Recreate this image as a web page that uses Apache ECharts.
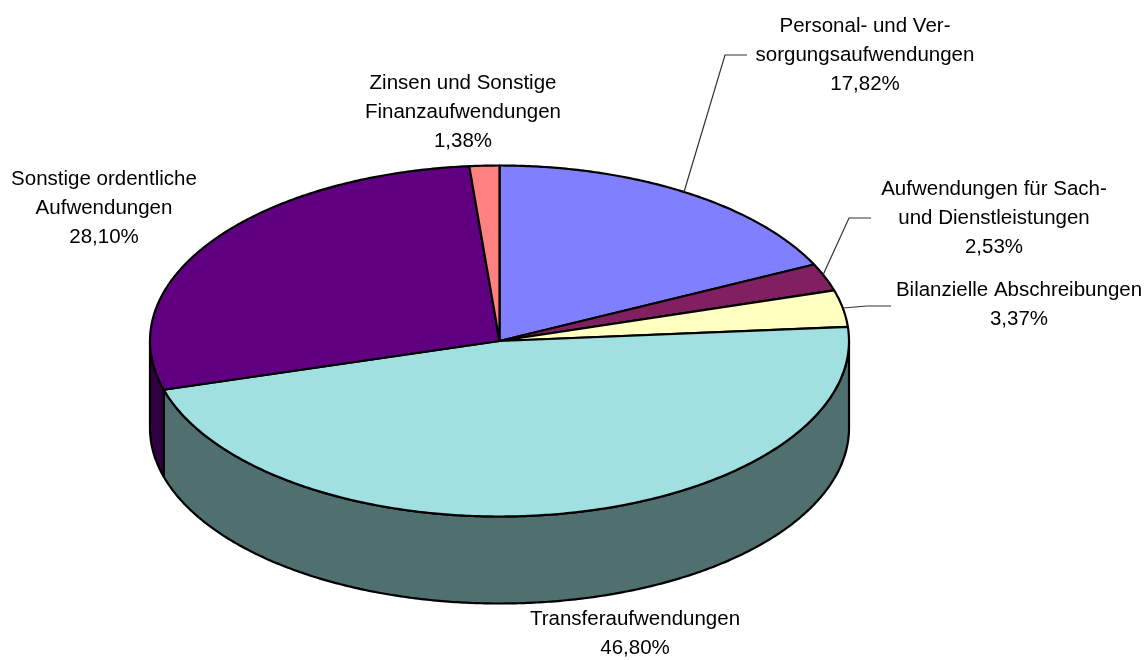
<!DOCTYPE html>
<html>
<head>
<meta charset="utf-8">
<style>html,body{margin:0;padding:0;background:#fff}#c{width:1147px;height:660px}</style>
<script src="https://cdn.jsdelivr.net/npm/echarts@6/dist/echarts.min.js"></script>
</head>
<body>
<div id="c"></div>
<script>
// Data (clockwise from 12 o'clock)
const categories = [
  "Personal- und Ver-\nsorgungsaufwendungen",
  "Aufwendungen für Sach-\nund Dienstleistungen",
  "Bilanzielle Abschreibungen",
  "Transferaufwendungen",
  "Sonstige ordentliche\nAufwendungen",
  "Zinsen und Sonstige\nFinanzaufwendungen"
];
const shares = [17.82, 2.53, 3.37, 46.80, 28.10, 1.38];

// Styles
const topColors  = ["#8080FF", "#802060", "#FFFFC0", "#A0E0E0", "#600080", "#FF8080"];
const sideColors = ["#404080", "#401030", "#808060", "#507070", "#300040", "#804040"];

// Layout
const pie = { cx: 499.5, cy: 341, rx: 349.5, ry: 175.5, depth: 87 };
const labelCenters = [[865, 55], [994, 218], [1019, 305], [635, 634], [104, 208], [463, 112]];
const leaders = [
  [[684, 192], [725, 55], [747, 55]],
  [[823, 275], [849, 218], [871, 218]],
  [[843, 308], [867, 306], [891, 306]],
  null, null, null
];
const font = '20.5px "Liberation Sans", Arial, sans-serif';
const STEP = Math.PI / 360;

function rim(a, dy) {
  return [pie.cx + pie.rx * Math.sin(a), pie.cy + dy - pie.ry * Math.cos(a)];
}
function arc(a0, a1, dy) {
  const n = Math.max(1, Math.ceil(Math.abs(a1 - a0) / STEP));
  const out = [];
  for (let i = 0; i <= n; i++) out.push(rim(a0 + (a1 - a0) * i / n, dy));
  return out;
}
const total = shares.reduce((s, v) => s + v, 0);

function renderItem(params, api) {
  const i = params.dataIndex;
  let before = 0;
  for (let k = 0; k < i; k++) before += shares[k];
  const value = api.value(0);
  const a0 = before / total * 2 * Math.PI;
  const a1 = (before + value) / total * 2 * Math.PI;
  const children = [];
  const edge = { stroke: "#000", lineWidth: 2.2, lineJoin: "round" };

  // visible side wall: the front half of the rim only
  const s0 = Math.max(a0, Math.PI / 2), s1 = Math.min(a1, 3 * Math.PI / 2);
  if (s1 > s0) {
    children.push({
      type: "polygon", z2: 1,
      shape: { points: arc(s0, s1, 0).concat(arc(s1, s0, pie.depth)) },
      style: Object.assign({ fill: sideColors[i] }, edge)
    });
  }
  // top face
  children.push({
    type: "polygon", z2: 2,
    shape: { points: [[pie.cx, pie.cy]].concat(arc(a0, a1, 0)) },
    style: Object.assign({ fill: topColors[i] }, edge)
  });
  // leader line
  if (leaders[i]) {
    children.push({
      type: "polyline", z2: 3,
      shape: { points: leaders[i] },
      style: { stroke: "#333", lineWidth: 1.2, fill: null }
    });
  }
  // label
  children.push({
    type: "text", z2: 4,
    style: {
      x: labelCenters[i][0], y: labelCenters[i][1],
      text: categories[i] + "\n" + value.toFixed(2).replace(".", ",") + "%",
      font: font, fill: "#000", lineHeight: 29,
      align: "center", verticalAlign: "middle"
    }
  });
  return { type: "group", children: children };
}

const chart = echarts.init(document.getElementById("c"), null, { renderer: "canvas" });
chart.setOption({
  animation: false,
  backgroundColor: "#fff",
  series: [{
    type: "custom",
    coordinateSystem: "none",
    renderItem: renderItem,
    data: shares.map((v, i) => ({ name: categories[i], value: [v] }))
  }]
});
</script>
</body>
</html>
